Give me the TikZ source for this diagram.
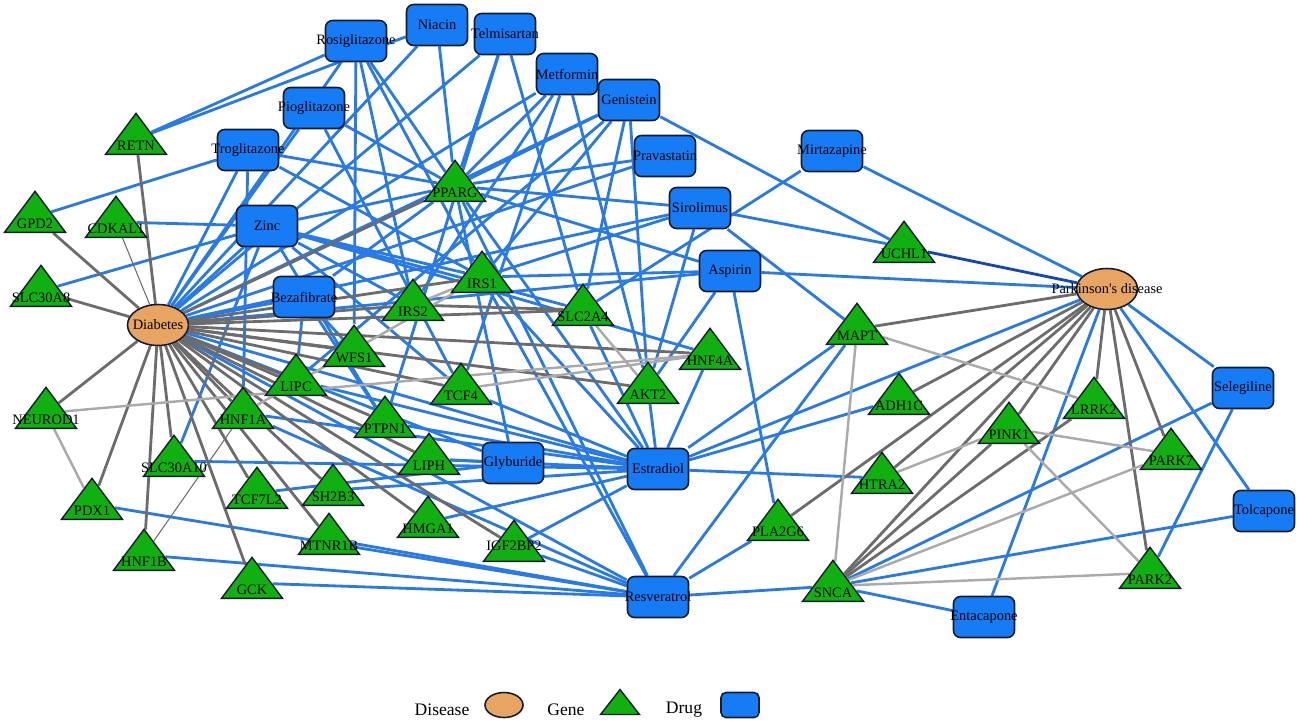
\documentclass[tikz,border=0pt]{standalone}
\usepackage{fontspec}
\setmainfont{Liberation Serif}
\usetikzlibrary{shapes.geometric,backgrounds}

\definecolor{drugblue}{RGB}{22,124,246}
\definecolor{edgeblue}{RGB}{40,122,232}
\definecolor{darkedge}{RGB}{20,70,185}
\definecolor{genegreen}{RGB}{16,176,16}
\definecolor{disorange}{RGB}{232,164,98}
\definecolor{nodeline}{RGB}{20,28,48}
\definecolor{edgegray}{RGB}{108,108,108}
\definecolor{edgelight}{RGB}{170,170,170}

\tikzset{
  drug/.style={draw=nodeline, fill=drugblue, line width=0.9pt, rounded corners=0.14cm,
    minimum width=1.22cm, minimum height=0.82cm, inner sep=0pt},
  gene/.style={draw=nodeline, fill=genegreen, line width=0.8pt, isosceles triangle,
    isosceles triangle stretches, shape border rotate=90,
    minimum width=1.22cm, minimum height=0.82cm, inner sep=0pt},
  disease/.style={draw=nodeline, fill=disorange, ellipse, line width=0.9pt,
    minimum width=1.22cm, minimum height=0.82cm, inner sep=0pt},
  lbl/.style={font=\fontsize{8.2}{9}\selectfont, inner sep=0pt},
  glbl/.style={lbl, yshift=-0.13cm},
  leglbl/.style={font=\fontsize{10}{12}\selectfont, inner sep=0pt},
  bedge/.style={draw=edgeblue, line width=1.6pt},
  gedge/.style={draw=edgegray, line width=1.6pt},
  ledge/.style={draw=edgelight, line width=1.4pt},
  thinedge/.style={draw=edgegray, line width=0.6pt},
}

\begin{document}
\begin{tikzpicture}[x=0.02cm, y=-0.02cm]
\useasboundingbox (0,0) rectangle (1300,725);

% diseases
\node[disease, label={[lbl]center:Diabetes}] (dia) at (158,325) {};
\node[disease, label={[lbl]center:Parkinson\textquotesingle s disease}] (pd) at (1107,289) {};

% drugs
\node[drug, label={[lbl]center:Rosiglitazone}] (rosi) at (356,41) {};
\node[drug, label={[lbl]center:Niacin}] (niac) at (437,25) {};
\node[drug, label={[lbl]center:Telmisartan}] (telm) at (505,34) {};
\node[drug, label={[lbl]center:Metformin}] (metf) at (567,74) {};
\node[drug, label={[lbl]center:Genistein}] (geni) at (629,100) {};
\node[drug, label={[lbl]center:Pioglitazone}] (piog) at (314,108) {};
\node[drug, label={[lbl]center:Troglitazone}] (trog) at (248,150) {};
\node[drug, label={[lbl]center:Pravastatin}] (prav) at (665,156) {};
\node[drug, label={[lbl]center:Mirtazapine}] (mirt) at (832,151) {};
\node[drug, label={[lbl]center:Sirolimus}] (siro) at (700,208) {};
\node[drug, label={[lbl]center:Zinc}] (zinc) at (267,226) {};
\node[drug, label={[lbl]center:Aspirin}] (aspi) at (730,271) {};
\node[drug, label={[lbl]center:Bezafibrate}] (beza) at (304,297) {};
\node[drug, label={[lbl]center:Glyburide}] (glyb) at (513,463) {};
\node[drug, label={[lbl]center:Estradiol}] (estr) at (658,469) {};
\node[drug, label={[lbl]center:Resveratrol}] (resv) at (658,597) {};
\node[drug, label={[lbl]center:Selegiline}] (sele) at (1243,388) {};
\node[drug, label={[lbl]center:Tolcapone}] (tolc) at (1264,511) {};
\node[drug, label={[lbl]center:Entacapone}] (enta) at (984,617) {};

% genes
\node[gene, label={[glbl]center:RETN}] (retn) at (136,139) {};
\node[gene, label={[glbl]center:GPD2}] (gpd2) at (35,217) {};
\node[gene, label={[glbl]center:CDKAL1}] (cdkal) at (116,222) {};
\node[gene, label={[glbl]center:SLC30A8}] (slca8) at (41,291) {};
\node[gene, label={[glbl]center:PPARG}] (pparg) at (455,186) {};
\node[gene, label={[glbl]center:IRS1}] (irs1) at (482,277) {};
\node[gene, label={[glbl]center:IRS2}] (irs2) at (413,305) {};
\node[gene, label={[glbl]center:SLC2A4}] (slc2a4) at (583,310) {};
\node[gene, label={[glbl]center:UCHL1}] (uchl1) at (904,247) {};
\node[gene, label={[glbl]center:WFS1}] (wfs1) at (354,351) {};
\node[gene, label={[glbl]center:LIPC}] (lipc) at (296,380) {};
\node[gene, label={[glbl]center:HNF4A}] (hnf4a) at (710,354) {};
\node[gene, label={[glbl]center:MAPT}] (mapt) at (857,329) {};
\node[gene, label={[glbl]center:TCF4}] (tcf4) at (461,389) {};
\node[gene, label={[glbl]center:AKT2}] (akt2) at (648,388) {};
\node[gene, label={[glbl]center:NEUROD1}] (neurod) at (46,413) {};
\node[gene, label={[glbl]center:HNF1A}] (hnf1a) at (243,413) {};
\node[gene, label={[glbl]center:PTPN1}] (ptpn1) at (385,422) {};
\node[gene, label={[glbl]center:ADH1C}] (adh1c) at (899,399) {};
\node[gene, label={[glbl]center:LRRK2}] (lrrk2) at (1094,403) {};
\node[gene, label={[glbl]center:PINK1}] (pink1) at (1009,428) {};
\node[gene, label={[glbl]center:SLC30A10}] (slca10) at (174,461) {};
\node[gene, label={[glbl]center:LIPH}] (liph) at (429,459) {};
\node[gene, label={[glbl]center:PARK7}] (park7) at (1171,454) {};
\node[gene, label={[glbl]center:HTRA2}] (htra2) at (882,478) {};
\node[gene, label={[glbl]center:TCF7L2}] (tcf7l2) at (257,493) {};
\node[gene, label={[glbl]center:SH2B3}] (sh2b3) at (333,490) {};
\node[gene, label={[glbl]center:PDX1}] (pdx1) at (92,504) {};
\node[gene, label={[glbl]center:HMGA1}] (hmga1) at (428,522) {};
\node[gene, label={[lbl]center:IGF2BP2}] (igf2) at (514,546) {};
\node[gene, label={[glbl]center:PLA2G6}] (pla2g6) at (778,525) {};
\node[gene, label={[glbl]center:MTNR1B}] (mtnr1b) at (329,539) {};
\node[gene, label={[glbl]center:HNF1B}] (hnf1b) at (144,555) {};
\node[gene, label={[glbl]center:GCK}] (gck) at (252,583) {};
\node[gene, label={[glbl]center:SNCA}] (snca) at (833,586) {};
\node[gene, label={[glbl]center:PARK2}] (park2) at (1150,573) {};

% legend
\node[leglbl] (legdis) at (442,710) {Disease};
\node[disease, minimum width=0.76cm, minimum height=0.5cm] (legdisk) at (504,705) {};
\node[leglbl] (leggene) at (566,710) {Gene};
\node[gene, minimum width=0.78cm, minimum height=0.5cm] (leggenek) at (620,705) {};
\node[leglbl] (legdrug) at (684,710) {Drug};
\node[drug, minimum width=0.76cm, minimum height=0.5cm, rounded corners=0.1cm] (legdrugk) at (740,705) {};

\begin{scope}[on background layer]
% drug links
\foreach \a/\b in {dia/rosi, dia/piog, dia/trog, dia/zinc, dia/beza, dia/metf, dia/geni,
    dia/telm, dia/niac, dia/prav, dia/siro, dia/aspi, dia/glyb, dia/estr, dia/resv,
    pd/mirt, pd/sele, pd/tolc, pd/enta, pd/estr, pd/aspi,
    pparg/rosi, pparg/niac, pparg/telm, pparg/metf, pparg/geni, pparg/piog, pparg/trog,
    pparg/prav, pparg/siro, pparg/zinc, pparg/beza, pparg/estr, pparg/resv, pparg/aspi, pparg/glyb,
    irs1/zinc, irs1/siro, irs1/aspi, irs1/geni, irs1/rosi, irs1/estr, irs1/resv, irs1/trog,
    irs2/zinc, irs2/metf, irs2/rosi,
    slc2a4/mirt, slc2a4/geni, slc2a4/zinc, slc2a4/estr, slc2a4/telm,
    akt2/geni, akt2/siro, akt2/aspi, akt2/metf, akt2/estr,
    hnf4a/estr, hnf4a/zinc, tcf4/zinc, tcf4/estr, tcf4/metf, tcf4/piog,
    wfs1/rosi, wfs1/beza, lipc/beza, lipc/estr, lipc/geni,
    ptpn1/beza, ptpn1/zinc, ptpn1/estr, ptpn1/telm, liph/estr, liph/glyb,
    hnf1a/estr, hnf1a/resv, hnf1a/trog, tcf7l2/glyb, sh2b3/estr, hmga1/estr,
    igf2/estr, igf2/resv, mtnr1b/resv, pdx1/resv, hnf1b/resv, gck/resv,
    slca10/zinc, slca10/estr, slca8/zinc, cdkal/zinc, gpd2/trog, retn/rosi, retn/niac,
    mapt/siro, mapt/estr, mapt/resv, pla2g6/aspi, pla2g6/resv, htra2/estr, adh1c/estr,
    snca/resv, snca/sele, snca/tolc, snca/enta, park2/sele, uchl1/geni, uchl1/siro}
  \draw[bedge] (\a) -- (\b);
% disease genes
\foreach \a/\b in {dia/retn, dia/gpd2, dia/slca8, dia/neurod, dia/pdx1, dia/hnf1b, dia/slca10,
    dia/hnf1a, dia/tcf7l2, dia/gck, dia/mtnr1b, dia/sh2b3, dia/hmga1, dia/igf2, dia/lipc,
    dia/wfs1, dia/ptpn1, dia/liph, dia/tcf4, dia/irs1, dia/irs2, dia/slc2a4, dia/hnf4a,
    dia/akt2, dia/pparg, irs2/slc2a4,
    pd/mapt, pd/adh1c, pd/lrrk2, pd/pink1, pd/park7, pd/park2, pd/snca, pd/htra2, pd/pla2g6,
    snca/pink1, snca/lrrk2}
  \draw[gedge] (\a) -- (\b);
% gene-gene links
\foreach \a/\b in {neurod/pdx1, neurod/hnf4a, tcf4/hnf4a, irs1/hnf1a, irs1/irs2, slc2a4/akt2,
    mapt/snca, mapt/lrrk2, pink1/park7, pink1/park2, pink1/htra2, snca/park2, snca/park7}
  \draw[ledge] (\a) -- (\b);
\draw[thinedge] (dia) -- (cdkal);
\draw[thinedge] (hnf1b) -- (hnf1a);
\draw[draw=darkedge, line width=1.6pt] (uchl1) -- (pd);
\end{scope}
\end{tikzpicture}
\end{document}
